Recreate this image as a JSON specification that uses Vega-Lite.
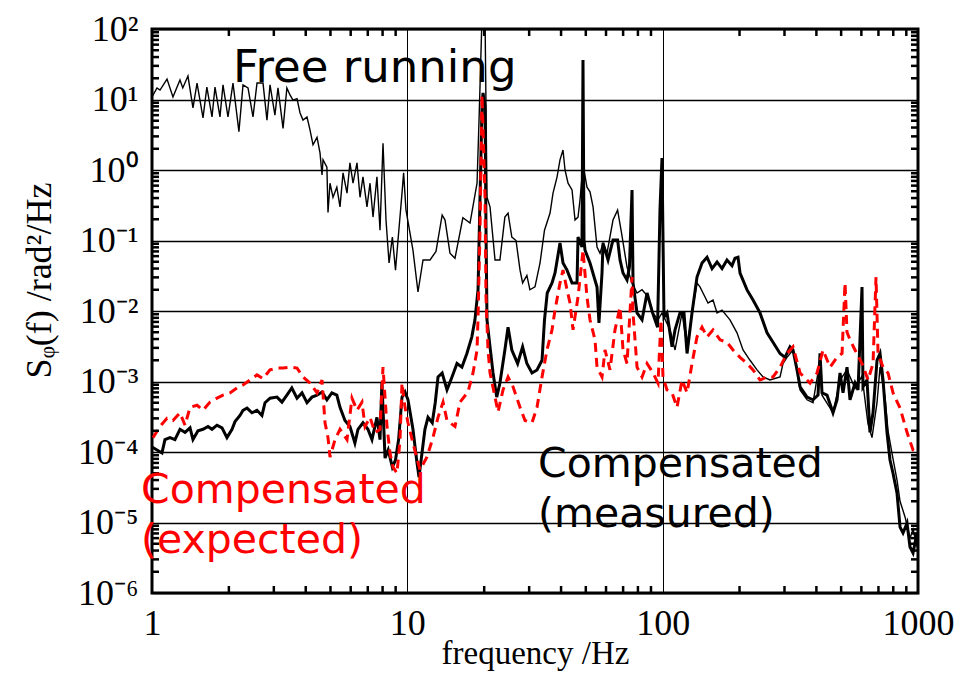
{
  "$schema": "https://vega.github.io/schema/vega-lite/v6.json",
  "width": 766,
  "height": 564,
  "autosize": {"type": "none"},
  "padding": {"left": 152, "top": 29, "right": 39, "bottom": 100},
  "background": "white",
  "config": {
    "view": {"stroke": "black", "strokeWidth": 3},
    "axis": {
      "labelFont": "Liberation Serif",
      "titleFont": "Liberation Serif",
      "labelColor": "black",
      "titleColor": "black",
      "gridColor": "black",
      "domain": false,
      "ticks": false,
      "labelOverlap": false,
      "labelFlush": false,
      "labelBound": false,
      "titleFontWeight": "normal"
    }
  },
  "datasets": {
    "free": [
      {"f": 1.0, "S": 10.85}, {"f": 1.046, "S": 14.6}, {"f": 1.075, "S": 13.6}, {"f": 1.145, "S": 19.5},
      {"f": 1.208, "S": 10.85}, {"f": 1.287, "S": 18.9}, {"f": 1.32, "S": 14.6}, {"f": 1.383, "S": 21.5},
      {"f": 1.447, "S": 7.6}, {"f": 1.501, "S": 17.1}, {"f": 1.584, "S": 5.5}, {"f": 1.64, "S": 15.0},
      {"f": 1.718, "S": 5.65}, {"f": 1.765, "S": 15.0}, {"f": 1.846, "S": 5.65}, {"f": 1.897, "S": 16.1},
      {"f": 1.984, "S": 5.65}, {"f": 2.076, "S": 17.1}, {"f": 2.19, "S": 3.5}, {"f": 2.272, "S": 16.1},
      {"f": 2.377, "S": 14.6}, {"f": 2.486, "S": 5.65}, {"f": 2.578, "S": 17.1}, {"f": 2.721, "S": 17.1},
      {"f": 2.82, "S": 5.1}, {"f": 2.899, "S": 16.1}, {"f": 3.03, "S": 6.0}, {"f": 3.115, "S": 14.6},
      {"f": 3.26, "S": 3.9}, {"f": 3.375, "S": 14.6}, {"f": 3.471, "S": 11.6}, {"f": 3.566, "S": 9.8},
      {"f": 3.698, "S": 10.3}, {"f": 3.798, "S": 6.5}, {"f": 3.903, "S": 5.1}, {"f": 4.046, "S": 5.65},
      {"f": 4.157, "S": 3.7}, {"f": 4.272, "S": 2.28}, {"f": 4.429, "S": 2.9}, {"f": 4.55, "S": 1.75},
      {"f": 4.633, "S": 0.85}, {"f": 4.676, "S": 1.4}, {"f": 4.841, "S": 1.1}, {"f": 4.89, "S": 0.25},
      {"f": 4.979, "S": 0.65}, {"f": 5.116, "S": 0.41}, {"f": 5.295, "S": 0.57}, {"f": 5.449, "S": 0.3},
      {"f": 5.6, "S": 0.91}, {"f": 5.804, "S": 0.47}, {"f": 5.96, "S": 1.26}, {"f": 6.128, "S": 0.65},
      {"f": 6.351, "S": 1.26}, {"f": 6.527, "S": 0.41}, {"f": 6.703, "S": 0.8}, {"f": 6.95, "S": 0.3},
      {"f": 7.142, "S": 0.65}, {"f": 7.338, "S": 0.215}, {"f": 7.603, "S": 0.8}, {"f": 7.816, "S": 0.14},
      {"f": 8.03, "S": 2.4}, {"f": 8.25, "S": 0.195}, {"f": 8.48, "S": 0.048}, {"f": 8.737, "S": 0.112},
      {"f": 8.987, "S": 0.038}, {"f": 9.244, "S": 0.128}, {"f": 9.531, "S": 0.47}, {"f": 9.67, "S": 0.91},
      {"f": 9.88, "S": 0.27}, {"f": 10.24, "S": 0.128}, {"f": 10.52, "S": 0.073}, {"f": 11.01, "S": 0.0186},
      {"f": 11.52, "S": 0.053}, {"f": 12.27, "S": 0.053}, {"f": 12.95, "S": 0.07}, {"f": 13.69, "S": 0.23},
      {"f": 14.05, "S": 0.195}, {"f": 14.69, "S": 0.066}, {"f": 15.37, "S": 0.056}, {"f": 16.5, "S": 0.21},
      {"f": 17.6, "S": 0.177}, {"f": 18.75, "S": 0.65}, {"f": 19.09, "S": 5.1}, {"f": 19.61, "S": 150},
      {"f": 20.15, "S": 150}, {"f": 20.51, "S": 0.41}, {"f": 21.08, "S": 0.3}, {"f": 22.05, "S": 0.053},
      {"f": 23.05, "S": 0.053}, {"f": 24.1, "S": 0.215}, {"f": 24.8, "S": 0.245}, {"f": 25.66, "S": 0.112},
      {"f": 26.65, "S": 0.1}, {"f": 27.63, "S": 0.038}, {"f": 28.28, "S": 0.025}, {"f": 29.39, "S": 0.032},
      {"f": 30.2, "S": 0.02}, {"f": 31.62, "S": 0.022}, {"f": 33.09, "S": 0.048}, {"f": 34.45, "S": 0.14},
      {"f": 36.22, "S": 0.245}, {"f": 37.2, "S": 0.47}, {"f": 38.59, "S": 0.8}, {"f": 39.62, "S": 1.39},
      {"f": 40.71, "S": 1.92}, {"f": 41.45, "S": 1.0}, {"f": 42.6, "S": 0.65}, {"f": 44.16, "S": 0.52},
      {"f": 45.37, "S": 0.195}, {"f": 46.61, "S": 0.215}, {"f": 47.45, "S": 0.375}, {"f": 48.31, "S": 0.8},
      {"f": 49.19, "S": 1.0}, {"f": 50.54, "S": 0.57}, {"f": 51.93, "S": 0.49}, {"f": 53.38, "S": 0.3},
      {"f": 55.32, "S": 0.081}, {"f": 56.84, "S": 0.066}, {"f": 58.4, "S": 0.092}, {"f": 60.53, "S": 0.066},
      {"f": 63.9, "S": 0.195}, {"f": 66.6, "S": 0.27}, {"f": 69.0, "S": 0.128}, {"f": 72.51, "S": 0.042},
      {"f": 75.86, "S": 0.025}, {"f": 79.36, "S": 0.018}, {"f": 83.03, "S": 0.02}, {"f": 87.9, "S": 0.0158},
      {"f": 91.68, "S": 0.0094}, {"f": 95.88, "S": 0.0075}, {"f": 99.4, "S": 0.0094}, {"f": 101.2, "S": 0.0082},
      {"f": 106.9, "S": 0.0054}, {"f": 111.8, "S": 0.0028}, {"f": 119.1, "S": 0.0094}, {"f": 124.6, "S": 0.0031},
      {"f": 130.3, "S": 0.0094}, {"f": 136.3, "S": 0.025}, {"f": 140.0, "S": 0.022}, {"f": 143.9, "S": 0.018},
      {"f": 150.5, "S": 0.013}, {"f": 157.5, "S": 0.0143}, {"f": 163.3, "S": 0.0094}, {"f": 170.8, "S": 0.0103},
      {"f": 183.5, "S": 0.0075}, {"f": 195.5, "S": 0.0049}, {"f": 206.4, "S": 0.0028}, {"f": 219.9, "S": 0.002},
      {"f": 234.2, "S": 0.00146}, {"f": 247.2, "S": 0.00116}, {"f": 263.3, "S": 0.00105}, {"f": 288.2, "S": 0.00116},
      {"f": 296.0, "S": 0.0018}, {"f": 306.9, "S": 0.0022}, {"f": 324.0, "S": 0.0028}, {"f": 335.9, "S": 0.00146},
      {"f": 345.2, "S": 0.00076}, {"f": 367.6, "S": 0.00055}, {"f": 388.0, "S": 0.0005}, {"f": 413.3, "S": 0.002},
      {"f": 420.8, "S": 0.00064}, {"f": 464.7, "S": 0.00036}, {"f": 495.0, "S": 0.00105}, {"f": 527.2, "S": 0.00146},
      {"f": 566.7, "S": 0.0008}, {"f": 603.6, "S": 0.0012}, {"f": 637.0, "S": 0.00025}, {"f": 660.5, "S": 0.00016},
      {"f": 691.0, "S": 0.0005}, {"f": 710.0, "S": 0.0016}, {"f": 742.7, "S": 0.0006}, {"f": 763.2, "S": 0.0002},
      {"f": 798.3, "S": 0.00008}, {"f": 827.7, "S": 0.00004}, {"f": 850.5, "S": 0.00002}, {"f": 889.6, "S": 0.000012},
      {"f": 930.5, "S": 0.000006}, {"f": 956.2, "S": 0.000008}, {"f": 1000, "S": 0.000004}
    ],
    "measured": [
      {"f": 1.0, "S": 0.000118}, {"f": 1.046, "S": 0.000107}, {"f": 1.094, "S": 0.000097}, {"f": 1.124, "S": 0.00015},
      {"f": 1.176, "S": 0.00016}, {"f": 1.23, "S": 0.00015}, {"f": 1.287, "S": 0.00021}, {"f": 1.347, "S": 0.00019},
      {"f": 1.409, "S": 0.00022}, {"f": 1.447, "S": 0.00015}, {"f": 1.514, "S": 0.0002}, {"f": 1.584, "S": 0.00021},
      {"f": 1.657, "S": 0.00023}, {"f": 1.718, "S": 0.00021}, {"f": 1.797, "S": 0.00024}, {"f": 1.88, "S": 0.00022},
      {"f": 1.966, "S": 0.00016}, {"f": 2.058, "S": 0.00021}, {"f": 2.114, "S": 0.00027}, {"f": 2.211, "S": 0.00033},
      {"f": 2.272, "S": 0.00039}, {"f": 2.356, "S": 0.00042}, {"f": 2.463, "S": 0.00036}, {"f": 2.578, "S": 0.00039},
      {"f": 2.695, "S": 0.00033}, {"f": 2.771, "S": 0.0005}, {"f": 2.899, "S": 0.00058}, {"f": 3.087, "S": 0.0006},
      {"f": 3.228, "S": 0.00051}, {"f": 3.375, "S": 0.00064}, {"f": 3.529, "S": 0.00081}, {"f": 3.698, "S": 0.00058},
      {"f": 3.868, "S": 0.00069}, {"f": 4.046, "S": 0.0005}, {"f": 4.231, "S": 0.0006}, {"f": 4.429, "S": 0.00064},
      {"f": 4.633, "S": 0.00071}, {"f": 4.841, "S": 0.00055}, {"f": 5.063, "S": 0.00069}, {"f": 5.295, "S": 0.00064},
      {"f": 5.449, "S": 0.00043}, {"f": 5.699, "S": 0.00028}, {"f": 5.96, "S": 0.00023}, {"f": 6.233, "S": 0.000134},
      {"f": 6.409, "S": 0.00021}, {"f": 6.703, "S": 0.00026}, {"f": 7.01, "S": 0.00021}, {"f": 7.269, "S": 0.00015},
      {"f": 7.603, "S": 0.00031}, {"f": 7.816, "S": 0.00015}, {"f": 7.951, "S": 0.00098}, {"f": 8.18, "S": 0.000082},
      {"f": 8.415, "S": 0.000107}, {"f": 8.737, "S": 0.000061}, {"f": 8.987, "S": 0.000077}, {"f": 9.244, "S": 0.00015},
      {"f": 9.531, "S": 0.0006}, {"f": 9.792, "S": 0.00071}, {"f": 10.06, "S": 0.00055}, {"f": 10.52, "S": 0.00021},
      {"f": 10.91, "S": 0.00007}, {"f": 11.11, "S": 0.000044}, {"f": 11.72, "S": 0.00021}, {"f": 12.05, "S": 0.00031},
      {"f": 12.52, "S": 0.00026}, {"f": 12.86, "S": 0.0005}, {"f": 13.19, "S": 0.00116}, {"f": 13.69, "S": 0.00132},
      {"f": 14.3, "S": 0.00076}, {"f": 14.96, "S": 0.00116}, {"f": 15.65, "S": 0.0018}, {"f": 16.36, "S": 0.0016},
      {"f": 17.11, "S": 0.0025}, {"f": 17.89, "S": 0.0043}, {"f": 18.4, "S": 0.0075}, {"f": 18.92, "S": 0.02},
      {"f": 19.26, "S": 0.41}, {"f": 19.61, "S": 7.8}, {"f": 19.79, "S": 12.4}, {"f": 20.15, "S": 7.8},
      {"f": 20.33, "S": 0.14}, {"f": 20.51, "S": 0.0075}, {"f": 21.08, "S": 0.0031}, {"f": 21.66, "S": 0.00132},
      {"f": 22.39, "S": 0.0006}, {"f": 23.05, "S": 0.00095}, {"f": 24.1, "S": 0.0028}, {"f": 24.8, "S": 0.0059},
      {"f": 25.66, "S": 0.0028}, {"f": 27.04, "S": 0.0018}, {"f": 28.28, "S": 0.0031}, {"f": 29.39, "S": 0.0018},
      {"f": 30.78, "S": 0.00132}, {"f": 32.2, "S": 0.00146}, {"f": 33.69, "S": 0.002}, {"f": 34.45, "S": 0.0075},
      {"f": 35.31, "S": 0.018}, {"f": 36.87, "S": 0.025}, {"f": 37.88, "S": 0.0346}, {"f": 39.62, "S": 0.092},
      {"f": 40.71, "S": 0.048}, {"f": 42.21, "S": 0.038}, {"f": 44.16, "S": 0.025}, {"f": 46.19, "S": 0.025},
      {"f": 46.61, "S": 0.112}, {"f": 48.31, "S": 0.081}, {"f": 48.75, "S": 36.3}, {"f": 49.19, "S": 0.102},
      {"f": 49.64, "S": 0.073}, {"f": 51.93, "S": 0.048}, {"f": 55.32, "S": 0.0219}, {"f": 56.3, "S": 0.0068},
      {"f": 57.87, "S": 0.0346}, {"f": 58.4, "S": 0.092}, {"f": 61.1, "S": 0.053}, {"f": 63.9, "S": 0.102},
      {"f": 66.6, "S": 0.102}, {"f": 68.07, "S": 0.053}, {"f": 69.94, "S": 0.0346}, {"f": 72.51, "S": 0.0275},
      {"f": 74.1, "S": 0.042}, {"f": 75.86, "S": 0.52}, {"f": 76.55, "S": 0.025}, {"f": 79.36, "S": 0.0094},
      {"f": 83.03, "S": 0.0075}, {"f": 86.86, "S": 0.018}, {"f": 91.3, "S": 0.0094}, {"f": 95.5, "S": 0.0059},
      {"f": 97.6, "S": 0.27}, {"f": 99.4, "S": 1.48}, {"f": 101.2, "S": 0.0082}, {"f": 104.0, "S": 0.0094},
      {"f": 108.8, "S": 0.0031}, {"f": 111.8, "S": 0.0054}, {"f": 116.9, "S": 0.0094}, {"f": 121.2, "S": 0.0094},
      {"f": 124.6, "S": 0.0025}, {"f": 130.3, "S": 0.0094}, {"f": 136.3, "S": 0.0303}, {"f": 142.6, "S": 0.048},
      {"f": 149.2, "S": 0.058}, {"f": 156.1, "S": 0.04}, {"f": 163.3, "S": 0.0496}, {"f": 170.8, "S": 0.04},
      {"f": 178.6, "S": 0.053}, {"f": 186.9, "S": 0.044}, {"f": 192.0, "S": 0.056}, {"f": 197.3, "S": 0.058},
      {"f": 200.9, "S": 0.0346}, {"f": 214.0, "S": 0.0199}, {"f": 225.9, "S": 0.0143}, {"f": 240.6, "S": 0.0094},
      {"f": 256.3, "S": 0.0049}, {"f": 270.5, "S": 0.0036}, {"f": 288.2, "S": 0.0025}, {"f": 301.4, "S": 0.0022},
      {"f": 315.3, "S": 0.0031}, {"f": 324.0, "S": 0.0028}, {"f": 335.9, "S": 0.00146}, {"f": 345.2, "S": 0.00084},
      {"f": 367.6, "S": 0.0006}, {"f": 388.0, "S": 0.00055}, {"f": 405.9, "S": 0.00064}, {"f": 413.3, "S": 0.0025},
      {"f": 420.8, "S": 0.00069}, {"f": 440.3, "S": 0.00064}, {"f": 464.7, "S": 0.00036}, {"f": 481.9, "S": 0.00055},
      {"f": 495.0, "S": 0.00132}, {"f": 508.6, "S": 0.00069}, {"f": 527.2, "S": 0.0016}, {"f": 541.7, "S": 0.00055},
      {"f": 566.7, "S": 0.00095}, {"f": 582.3, "S": 0.00076}, {"f": 603.6, "S": 0.0219}, {"f": 609.0, "S": 0.00084},
      {"f": 631.4, "S": 0.00105}, {"f": 648.6, "S": 0.00019}, {"f": 666.6, "S": 0.00036}, {"f": 691.0, "S": 0.002},
      {"f": 710.0, "S": 0.0025}, {"f": 729.6, "S": 0.00105}, {"f": 756.1, "S": 0.00019}, {"f": 776.8, "S": 0.000077},
      {"f": 798.3, "S": 0.00005}, {"f": 827.7, "S": 0.000026}, {"f": 850.5, "S": 0.0000086}, {"f": 873.7, "S": 0.0000071},
      {"f": 905.7, "S": 0.0000098}, {"f": 930.5, "S": 0.0000045}, {"f": 956.2, "S": 0.0000037}, {"f": 991.1, "S": 0.0000071}
    ],
    "expected": [
      {"f": 1.009, "S": 0.00016}, {"f": 1.075, "S": 0.00023}, {"f": 1.145, "S": 0.0003}, {"f": 1.208, "S": 0.00028},
      {"f": 1.287, "S": 0.00036}, {"f": 1.347, "S": 0.00024}, {"f": 1.409, "S": 0.00043}, {"f": 1.501, "S": 0.00046},
      {"f": 1.584, "S": 0.00039}, {"f": 1.687, "S": 0.00051}, {"f": 1.797, "S": 0.00058}, {"f": 1.897, "S": 0.00064},
      {"f": 2.021, "S": 0.00069}, {"f": 2.152, "S": 0.00081}, {"f": 2.272, "S": 0.00089}, {"f": 2.42, "S": 0.00105},
      {"f": 2.578, "S": 0.00124}, {"f": 2.721, "S": 0.0011}, {"f": 2.899, "S": 0.00146}, {"f": 3.087, "S": 0.00155},
      {"f": 3.26, "S": 0.00155}, {"f": 3.471, "S": 0.0016}, {"f": 3.698, "S": 0.00155}, {"f": 3.903, "S": 0.00116},
      {"f": 4.157, "S": 0.00095}, {"f": 4.429, "S": 0.00069}, {"f": 4.633, "S": 0.00105}, {"f": 4.76, "S": 0.00026},
      {"f": 4.89, "S": 0.00016}, {"f": 4.979, "S": 0.000085}, {"f": 5.209, "S": 0.00015}, {"f": 5.449, "S": 0.00021},
      {"f": 5.804, "S": 0.00015}, {"f": 6.071, "S": 0.00058}, {"f": 6.351, "S": 0.00039}, {"f": 6.645, "S": 0.00051},
      {"f": 6.828, "S": 0.00023}, {"f": 7.142, "S": 0.00031}, {"f": 7.471, "S": 0.00019}, {"f": 7.816, "S": 0.00021},
      {"f": 8.03, "S": 0.0016}, {"f": 8.325, "S": 0.00023}, {"f": 8.553, "S": 0.000097}, {"f": 8.788, "S": 0.000061},
      {"f": 9.111, "S": 0.00005}, {"f": 9.361, "S": 0.00015}, {"f": 9.531, "S": 0.00095}, {"f": 9.792, "S": 0.00043},
      {"f": 10.06, "S": 0.00026}, {"f": 10.52, "S": 0.000134}, {"f": 11.21, "S": 0.000056}, {"f": 11.94, "S": 0.000085},
      {"f": 12.6, "S": 0.00016}, {"f": 13.19, "S": 0.00031}, {"f": 13.8, "S": 0.00051}, {"f": 14.3, "S": 0.00028},
      {"f": 15.37, "S": 0.00023}, {"f": 16.08, "S": 0.00051}, {"f": 17.28, "S": 0.00071}, {"f": 18.08, "S": 0.00132},
      {"f": 18.75, "S": 0.0028}, {"f": 18.92, "S": 0.0082}, {"f": 19.26, "S": 0.14}, {"f": 19.61, "S": 11.6},
      {"f": 20.15, "S": 0.41}, {"f": 20.33, "S": 0.0158}, {"f": 20.7, "S": 0.0028}, {"f": 21.08, "S": 0.00132},
      {"f": 22.05, "S": 0.0006}, {"f": 22.66, "S": 0.00037}, {"f": 23.7, "S": 0.00076}, {"f": 24.8, "S": 0.00116},
      {"f": 25.94, "S": 0.00084}, {"f": 27.63, "S": 0.00043}, {"f": 28.9, "S": 0.00028}, {"f": 30.78, "S": 0.00026},
      {"f": 32.2, "S": 0.00043}, {"f": 33.69, "S": 0.00116}, {"f": 35.24, "S": 0.0028}, {"f": 36.87, "S": 0.0054},
      {"f": 37.88, "S": 0.0103}, {"f": 39.62, "S": 0.025}, {"f": 40.71, "S": 0.038}, {"f": 42.21, "S": 0.02},
      {"f": 43.36, "S": 0.013}, {"f": 44.56, "S": 0.0054}, {"f": 46.61, "S": 0.0158}, {"f": 48.31, "S": 0.053},
      {"f": 48.75, "S": 0.073}, {"f": 50.54, "S": 0.0158}, {"f": 51.93, "S": 0.0075}, {"f": 54.33, "S": 0.0039},
      {"f": 55.32, "S": 0.0016}, {"f": 57.87, "S": 0.00116}, {"f": 59.46, "S": 0.0028}, {"f": 62.19, "S": 0.00146},
      {"f": 65.06, "S": 0.0054}, {"f": 68.07, "S": 0.0114}, {"f": 69.94, "S": 0.0028}, {"f": 72.51, "S": 0.0018},
      {"f": 75.86, "S": 0.0303}, {"f": 76.55, "S": 0.0094}, {"f": 79.36, "S": 0.0016}, {"f": 83.03, "S": 0.00116},
      {"f": 86.86, "S": 0.0018}, {"f": 91.68, "S": 0.00132}, {"f": 95.88, "S": 0.00095}, {"f": 98.5, "S": 0.0075},
      {"f": 100.3, "S": 0.00116}, {"f": 104.0, "S": 0.00076}, {"f": 108.8, "S": 0.00069}, {"f": 113.8, "S": 0.00043},
      {"f": 119.1, "S": 0.00105}, {"f": 124.6, "S": 0.00069}, {"f": 130.3, "S": 0.0018}, {"f": 136.3, "S": 0.0043},
      {"f": 142.6, "S": 0.0059}, {"f": 149.2, "S": 0.0043}, {"f": 157.5, "S": 0.0054}, {"f": 167.8, "S": 0.0039},
      {"f": 178.6, "S": 0.0036}, {"f": 188.6, "S": 0.0028}, {"f": 200.9, "S": 0.0022}, {"f": 214.0, "S": 0.0018},
      {"f": 225.9, "S": 0.00146}, {"f": 240.6, "S": 0.00105}, {"f": 256.3, "S": 0.00116}, {"f": 270.5, "S": 0.00116},
      {"f": 288.2, "S": 0.0016}, {"f": 306.9, "S": 0.0025}, {"f": 324.0, "S": 0.0031}, {"f": 345.2, "S": 0.00132},
      {"f": 377.7, "S": 0.00095}, {"f": 402.3, "S": 0.00132}, {"f": 424.6, "S": 0.0028}, {"f": 452.3, "S": 0.0016},
      {"f": 481.9, "S": 0.0022}, {"f": 504.1, "S": 0.0025}, {"f": 517.9, "S": 0.025}, {"f": 527.2, "S": 0.005},
      {"f": 541.7, "S": 0.0039}, {"f": 566.7, "S": 0.0028}, {"f": 603.6, "S": 0.0018}, {"f": 637.2, "S": 0.00105},
      {"f": 666.6, "S": 0.0018}, {"f": 684.8, "S": 0.0303}, {"f": 697.4, "S": 0.0025}, {"f": 729.6, "S": 0.0016},
      {"f": 763.2, "S": 0.00132}, {"f": 798.3, "S": 0.00069}, {"f": 850.5, "S": 0.00042}, {"f": 905.7, "S": 0.00019},
      {"f": 956.2, "S": 0.000107}, {"f": 1000, "S": 0.000097}
    ],
    "notes": [
      {"f": 2.076, "S": 17.9, "text": "Free running", "kind": "free"},
      {"f": 32.5, "S": 0.0000442, "text": "Compensated", "kind": "measured"},
      {"f": 32.5, "S": 0.00000863, "text": "(measured)", "kind": "measured"},
      {"f": 0.906, "S": 0.0000189, "text": "Compensated", "kind": "expected"},
      {"f": 0.906, "S": 0.00000369, "text": "(expected)", "kind": "expected"}
    ],
    "fMinor": [
      {"f": 2}, {"f": 3}, {"f": 4}, {"f": 5}, {"f": 6}, {"f": 7}, {"f": 8}, {"f": 9},
      {"f": 20}, {"f": 30}, {"f": 40}, {"f": 50}, {"f": 60}, {"f": 70}, {"f": 80}, {"f": 90},
      {"f": 200}, {"f": 300}, {"f": 400}, {"f": 500}, {"f": 600}, {"f": 700}, {"f": 800}, {"f": 900}
    ],
    "sMinor": [
      {"S": 0.000002}, {"S": 0.000003}, {"S": 0.000004}, {"S": 0.000005}, {"S": 0.000006}, {"S": 0.000007}, {"S": 0.000008}, {"S": 0.000009},
      {"S": 0.00002}, {"S": 0.00003}, {"S": 0.00004}, {"S": 0.00005}, {"S": 0.00006}, {"S": 0.00007}, {"S": 0.00008}, {"S": 0.00009},
      {"S": 0.0002}, {"S": 0.0003}, {"S": 0.0004}, {"S": 0.0005}, {"S": 0.0006}, {"S": 0.0007}, {"S": 0.0008}, {"S": 0.0009},
      {"S": 0.002}, {"S": 0.003}, {"S": 0.004}, {"S": 0.005}, {"S": 0.006}, {"S": 0.007}, {"S": 0.008}, {"S": 0.009},
      {"S": 0.02}, {"S": 0.03}, {"S": 0.04}, {"S": 0.05}, {"S": 0.06}, {"S": 0.07}, {"S": 0.08}, {"S": 0.09},
      {"S": 0.2}, {"S": 0.3}, {"S": 0.4}, {"S": 0.5}, {"S": 0.6}, {"S": 0.7}, {"S": 0.8}, {"S": 0.9},
      {"S": 2}, {"S": 3}, {"S": 4}, {"S": 5}, {"S": 6}, {"S": 7}, {"S": 8}, {"S": 9},
      {"S": 20}, {"S": 30}, {"S": 40}, {"S": 50}, {"S": 60}, {"S": 70}, {"S": 80}, {"S": 90}
    ]
  },
  "layer": [
    {
      "encoding": {
        "x": {
          "field": "f",
          "type": "quantitative",
          "scale": {"type": "log", "domain": [1, 1000], "nice": false},
          "axis": {
            "orient": "bottom",
            "values": [1, 10, 100, 1000],
            "labelExpr": "['1','10','100','1000'][round(log(datum.value)/LN10)]",
            "labelFontSize": 36,
            "labelPadding": 13,
            "grid": true,
            "gridWidth": 1,
            "title": "frequency /Hz",
            "titleFontSize": 33,
            "titleY": 44
          }
        },
        "y": {
          "field": "S",
          "type": "quantitative",
          "scale": {"type": "log", "domain": [0.000001, 100], "nice": false},
          "axis": {
            "orient": "left",
            "values": [0.000001, 0.00001, 0.0001, 0.001, 0.01, 0.1, 1, 10, 100],
            "labelExpr": "['10⁻⁶','10⁻⁵','10⁻⁴','10⁻³','10⁻²','10⁻¹','10⁰','10¹','10²'][round(log(datum.value)/LN10) + 6]",
            "labelFontSize": 36,
            "labelPadding": 14,
            "labelAlign": "right",
            "labelBaseline": "middle",
            "grid": true,
            "gridWidth": 1.5,
            "title": "Sᵩ(f) /rad²/Hz",
            "titleFontSize": 36,
            "titleX": -94,
            "titleY": 251
          }
        }
      },
      "layer": [
        {"data": {"name": "free"}, "mark": {"type": "line", "color": "black", "strokeWidth": 1.4, "clip": true}},
        {"data": {"name": "measured"}, "mark": {"type": "line", "color": "black", "strokeWidth": 3, "clip": true}},
        {"data": {"name": "expected"}, "mark": {"type": "line", "color": "#ff0000", "strokeWidth": 3, "strokeDash": [9, 6], "clip": true}}
      ]
    },
    {
      "data": {"name": "fMinor"},
      "mark": {"type": "rule", "color": "black", "strokeWidth": 2.5},
      "encoding": {
        "x": {"field": "f", "type": "quantitative", "scale": {"type": "log", "domain": [1, 1000], "nice": false}},
        "y": {"datum": 0.000001, "type": "quantitative", "scale": {"type": "log", "domain": [0.000001, 100], "nice": false}},
        "y2": {"datum": 0.0000012567}
      }
    },
    {
      "data": {"name": "fMinor"},
      "mark": {"type": "rule", "color": "black", "strokeWidth": 2.5},
      "encoding": {
        "x": {"field": "f", "type": "quantitative", "scale": {"type": "log", "domain": [1, 1000], "nice": false}},
        "y": {"datum": 100, "type": "quantitative", "scale": {"type": "log", "domain": [0.000001, 100], "nice": false}},
        "y2": {"datum": 79.57}
      }
    },
    {
      "data": {"name": "sMinor"},
      "mark": {"type": "rule", "color": "black", "strokeWidth": 2.5},
      "encoding": {
        "y": {"field": "S", "type": "quantitative", "scale": {"type": "log", "domain": [0.000001, 100], "nice": false}},
        "x": {"datum": 1, "type": "quantitative", "scale": {"type": "log", "domain": [1, 1000], "nice": false}},
        "x2": {"datum": 1.0652}
      }
    },
    {
      "data": {"name": "sMinor"},
      "mark": {"type": "rule", "color": "black", "strokeWidth": 2.5},
      "encoding": {
        "y": {"field": "S", "type": "quantitative", "scale": {"type": "log", "domain": [0.000001, 100], "nice": false}},
        "x": {"datum": 1000, "type": "quantitative", "scale": {"type": "log", "domain": [1, 1000], "nice": false}},
        "x2": {"datum": 938.8}
      }
    },
    {
      "data": {"name": "notes"},
      "encoding": {
        "x": {"field": "f", "type": "quantitative", "scale": {"type": "log", "domain": [1, 1000], "nice": false}},
        "y": {"field": "S", "type": "quantitative", "scale": {"type": "log", "domain": [0.000001, 100], "nice": false}},
        "text": {"field": "text", "type": "nominal"}
      },
      "layer": [
        {
          "transform": [{"filter": "datum.kind == 'free'"}],
          "mark": {"type": "text", "font": "DejaVu Sans", "fontSize": 45, "align": "left", "baseline": "alphabetic", "color": "black"}
        },
        {
          "transform": [{"filter": "datum.kind == 'measured'"}],
          "mark": {"type": "text", "font": "DejaVu Sans", "fontSize": 41, "align": "left", "baseline": "alphabetic", "color": "black"}
        },
        {
          "transform": [{"filter": "datum.kind == 'expected'"}],
          "mark": {"type": "text", "font": "DejaVu Sans", "fontSize": 41, "align": "left", "baseline": "alphabetic", "color": "#ff0000"}
        }
      ]
    }
  ]
}
